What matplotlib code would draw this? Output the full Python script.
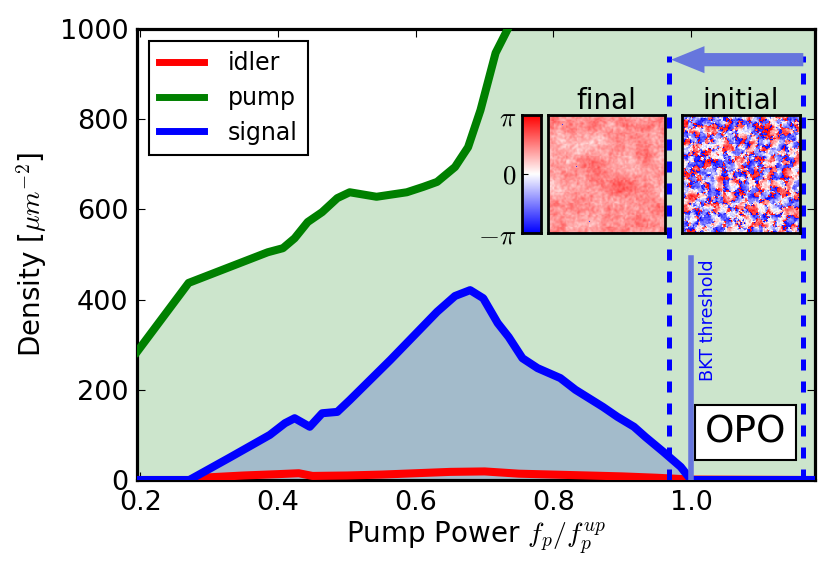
import numpy as np
import matplotlib
matplotlib.use('Agg')
import matplotlib.pyplot as plt

plt.rcParams['font.family'] = ['DejaVu Sans']
plt.rcParams['mathtext.fontset'] = 'cm'

# ---------------- data ----------------
pump_x = [0.195, 0.27, 0.385, 0.407, 0.424, 0.443, 0.464, 0.486, 0.504, 0.543,
          0.587, 0.611, 0.631, 0.657, 0.676, 0.694, 0.716, 0.733, 0.75, 0.8,
          0.9, 1.0, 1.1, 1.18]
pump_y = [284, 437, 505, 514, 536, 572, 594, 625, 638, 628,
          638, 650, 661, 694, 738, 820, 947, 998, 1050, 1150,
          1300, 1450, 1600, 1700]

signal_x = [0.195, 0.271, 0.33, 0.388, 0.41, 0.424, 0.446, 0.464, 0.486, 0.504,
            0.563, 0.631, 0.657, 0.679, 0.698, 0.719, 0.735, 0.755, 0.777, 0.81,
            0.832, 0.872, 0.893, 0.917, 0.934, 0.96, 0.985, 1.0, 1.18]
signal_y = [0, 0, 50, 100, 126, 137, 118, 148, 151, 177,
            266, 373, 408, 421, 403, 348, 317, 270, 248, 226,
            200, 162, 140, 118, 95, 62, 29, 0, 0]

idler_x = [0.195, 0.27, 0.3, 0.35, 0.4, 0.43, 0.45, 0.5, 0.55, 0.6, 0.65,
           0.7, 0.75, 0.8, 0.85, 0.9, 0.95, 1.0, 1.18]
idler_y = [0, 0, 6, 10, 13, 15, 9, 10, 12, 15, 18,
           19, 14, 12, 10, 8, 5, 1, 0]

series_labels = ['idler', 'pump', 'signal']
xticks = [0.2, 0.4, 0.6, 0.8, 1.0]
yticks = [0, 200, 400, 600, 800, 1000]

opo_left, opo_right = 0.968, 1.163
arrow_y = 932
bkt_x, bkt_top = 1.0, 492

# phase textures (deterministic hash noise for the inset images)
N = 128
ii, jj = np.meshgrid(np.arange(N), np.arange(N), indexing='ij')


def hash_noise(seed):
    v = np.sin(ii * 12.9898 + jj * 78.233 + seed * 37.719) * 43758.5453
    return v - np.floor(v) - 0.5


def smooth(a, sigma):
    k = np.fft.fftfreq(N)
    kx, ky = np.meshgrid(k, k, indexing='ij')
    g = np.exp(-2 * (np.pi * sigma) ** 2 * (kx ** 2 + ky ** 2))
    out = np.real(np.fft.ifft2(np.fft.fft2(a) * g))
    return out / out.std()


za = smooth(hash_noise(1.0), 2.0) + 0.55 * smooth(hash_noise(2.0), 0.6)
zb = smooth(hash_noise(3.0), 2.0) + 0.55 * smooth(hash_noise(4.0), 0.6)
phase_initial = np.angle(za + 1j * zb)

f1 = smooth(hash_noise(5.0), 6.0)
f2 = smooth(hash_noise(6.0), 1.0)
phase_final = 0.44 * np.pi + 0.07 * np.pi * f1 + 0.05 * np.pi * f2
# a few isolated defects
for (a, b) in [(10, 15), (55, 30), (70, 65), (115, 45)]:
    phase_final[a, b] = -0.8 * np.pi

# ---------------- figure ----------------
W, H = 830, 575
fig = plt.figure(figsize=(W / 100, H / 100), dpi=100)
fig.patch.set_facecolor('white')
ax = fig.add_axes([137 / W, 1 - 480 / H, (815 - 137) / W, (480 - 29) / H])

lw = 5.8
ax.fill_between(pump_x, 0, pump_y, color='green', alpha=0.2, lw=0, zorder=1)
ax.fill_between(signal_x, 0, signal_y, color='#a3bbcb', lw=0, zorder=2)
ax.plot(idler_x, idler_y, color='red', lw=lw, label=series_labels[0], zorder=3)
ax.plot(pump_x, pump_y, color='green', lw=lw, label=series_labels[1], zorder=3)
ax.plot(signal_x, signal_y, color='blue', lw=lw, label=series_labels[2], zorder=4)

ax.set_xlim(0.195, 1.18)
ax.set_ylim(0, 1000)
ax.set_xticks(xticks)
ax.set_yticks(yticks)
ax.tick_params(direction='in', length=6, width=0.8, top=True, right=True,
               labelsize=19.5, pad=6)
ax.tick_params(axis='x', pad=7)
for s in ax.spines.values():
    s.set_linewidth(2.3)
ax.set_xlabel(r'Pump Power $f_p/f_p^{up}$', fontsize=20, labelpad=3)
ax.set_ylabel(r'Density [$\mu m^{-2}$]', fontsize=20, labelpad=8)

leg = ax.legend(loc='upper left', fontsize=17, fancybox=False, framealpha=1,
                edgecolor='black', handlelength=1.9, handletextpad=1.0,
                borderaxespad=0.5, labelspacing=0.45, borderpad=0.45)
leg.get_frame().set_linewidth(1.5)
for h in leg.get_lines():
    h.set_linewidth(5)

# OPO region
dash_kw = dict(color='blue', lw=3.6, dashes=(2.2, 2.2), zorder=5)
ax.plot([opo_left, opo_left], [0, 940], **dash_kw)
ax.plot([opo_right, opo_right], [0, 940], **dash_kw)
ax.annotate('', xy=(opo_left + 0.003, arrow_y), xytext=(opo_right, arrow_y),
            arrowprops=dict(arrowstyle='simple,head_length=2.4,head_width=1.95,tail_width=0.95',
                            mutation_scale=10, color='#6676dd', lw=0,
                            shrinkA=0, shrinkB=0), zorder=6)
ax.plot([bkt_x, bkt_x], [0, bkt_top], color='#6676dd', lw=4, zorder=4.5)
ax.text(bkt_x + 0.012, bkt_top - 2, 'BKT threshold', rotation=90, color='blue',
        fontsize=12.6, ha='left', va='top', zorder=6)
ax.text(1.079, 106, 'OPO', fontsize=27, ha='center', va='center', zorder=7,
        bbox=dict(boxstyle='square,pad=0.25', facecolor='white',
                  edgecolor='black', lw=1.5))

# insets
ax_f = fig.add_axes([548 / W, 1 - 233 / H, 117 / W, 118 / H])
ax_i = fig.add_axes([682 / W, 1 - 233 / H, 118 / W, 118 / H])
ax_c = fig.add_axes([522 / W, 1 - 233 / H, 19 / W, 118 / H])
ax_f.imshow(phase_final, cmap='bwr', vmin=-np.pi, vmax=np.pi,
            interpolation='nearest', aspect='auto')
ax_i.imshow(phase_initial, cmap='bwr', vmin=-np.pi, vmax=np.pi,
            interpolation='nearest', aspect='auto')
ax_f.set_title('final', fontsize=20, pad=4)
ax_i.set_title('initial', fontsize=20, pad=4)
for a in (ax_f, ax_i):
    a.set_xticks([])
    a.set_yticks([])
    for s in a.spines.values():
        s.set_linewidth(2.0)

grad = np.linspace(-np.pi, np.pi, 256).reshape(-1, 1)
ax_c.imshow(grad, cmap='bwr', vmin=-np.pi, vmax=np.pi, origin='lower',
            aspect='auto', extent=[0, 1, -np.pi, np.pi])
ax_c.set_xticks([])
ax_c.set_yticks([-np.pi, 0, np.pi])
ax_c.set_yticklabels([r'$-\pi$', r'$0$', r'$\pi$'])
ax_c.tick_params(direction='in', length=4, width=0.8, labelsize=19.5, pad=4)
for s in ax_c.spines.values():
    s.set_linewidth(2.0)

fig.savefig('out.png', dpi=100, facecolor='white')
